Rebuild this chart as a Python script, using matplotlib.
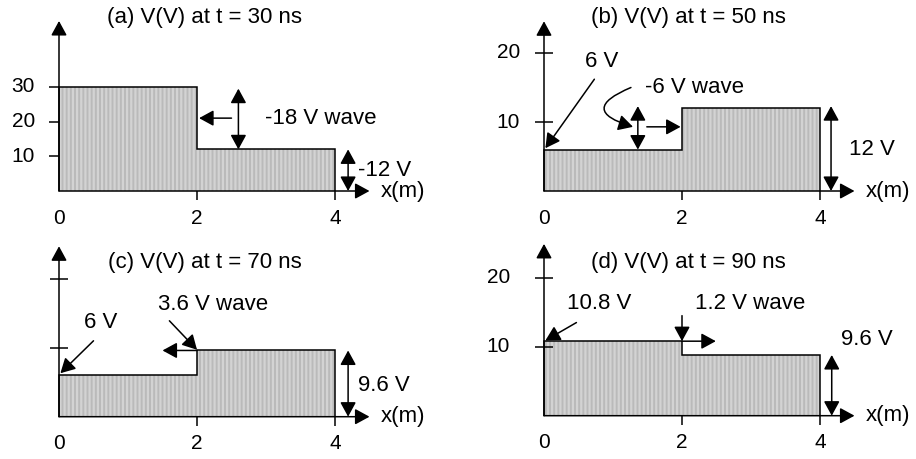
import matplotlib.pyplot as plt

plt.rcParams['font.family'] = ['Liberation Sans', 'DejaVu Sans']
plt.rcParams['hatch.linewidth'] = 1.6

# edges of the two line sections (m)
x_edges = [0, 2, 4]
x_ticks = [0, 2, 4]

# voltage on each section for every snapshot (V)
v_30ns = [30, 12]
v_50ns = [6, 12]
v_70ns = [6, 9.6]
v_90ns = [10.8, 8.8]

titles = ['(a) V(V) at t = 30 ns', '(b) V(V) at t = 50 ns',
          '(c) V(V) at t = 70 ns', '(d) V(V) at t = 90 ns']

yticks_a = [10, 20, 30]
yticks_b = [10, 20]
yticks_c = [10, 20]
yticks_d = [10, 20]

W, H = 916, 459
XS = 69.0   # pixels per metre
FS = 16

fig = plt.figure(figsize=(W / 100, H / 100), dpi=100)

AX = dict(arrowstyle='-|>,head_length=0.55,head_width=0.3', mutation_scale=16,
          color='k', lw=1.1, shrinkA=0, shrinkB=0)
DBL = dict(AX, arrowstyle='<|-|>,head_length=0.55,head_width=0.3')


def panel(qx, qy, ox, oy, ys):
    # axes covering one quarter, origin at pixel (ox, oy)
    ax = fig.add_axes([qx / W, 1 - (qy + H / 2) / H, 0.5, 0.5])
    ax.set_xlim((qx - ox) / XS, (qx + W / 2 - ox) / XS)
    ax.set_ylim((oy - qy - H / 2) / ys, (oy - qy) / ys)
    ax.axis('off')
    return ax


def arrow(ax, start, end, props=AX, **kw):
    p = dict(props, **kw)
    ax.annotate('', xy=end, xytext=start, arrowprops=p, annotation_clip=False)


def draw(ax, levels, title, title_xy, yticks, ylabels, ytop, crossing, ylab_off):
    ax.stairs(levels, x_edges, baseline=0, fill=True, facecolor='#bababa',
              edgecolor='#d3d3d3', lw=0, hatch='||||')
    ax.stairs(levels, x_edges, baseline=0, color='k', lw=1.1)
    arrow(ax, (0, 0), (0, ytop))
    arrow(ax, (0, 0), (4.5, 0))
    ax.text(4.67, 0, 'x(m)', ha='left', va='center', fontsize=FS)
    ax.text(*title_xy, title, ha='center', va='center', fontsize=FS)
    ax.plot(x_ticks[1:], [0] * len(x_ticks[1:]), ls='none', marker=3, ms=6.5,
            mew=1.1, color='k', clip_on=False)
    for xt in x_ticks:
        ax.annotate(str(xt), xy=(xt, 0), xytext=(0, -19.5), textcoords='offset points',
                    ha='center', va='center', fontsize=15)
    if crossing:
        ax.plot([0] * len(yticks), yticks, ls='none', marker='_', ms=13, mew=1.1,
                color='k', clip_on=False)
    else:
        ax.plot([0] * len(yticks), yticks, ls='none', marker=0, ms=7.2, mew=1.1,
                color='k', clip_on=False)
    for yt, lab in zip(yticks, ylabels):
        ax.annotate(lab, xy=(0, yt), xytext=(-ylab_off, 0), textcoords='offset points',
                    ha='right', va='center', fontsize=15)


# (a) t = 30 ns
ax = panel(0, 0, 59, 191, 3.47)
draw(ax, v_30ns, titles[0], (2.11, 50), yticks_a, [str(v) for v in yticks_a], 49, False, 17.3)
arrow(ax, (2.5, 21), (2.03, 21))
arrow(ax, (2.6, 12), (2.6, 29.5), DBL)
ax.text(2.99, 21, '-18 V wave', ha='left', va='center', fontsize=FS)
arrow(ax, (4.19, 0), (4.19, 12), DBL)
ax.text(4.33, 6, '-12 V', ha='left', va='center', fontsize=FS)

# (b) t = 50 ns
ax = panel(458, 0, 544, 191, 6.9)
draw(ax, v_50ns, titles[1], (2.09, 25.2), yticks_b, [str(v) for v in yticks_b], 24.6, True, 17.3)
ax.text(0.83, 18.7, '6 V', ha='center', va='center', fontsize=FS)
arrow(ax, (0.73, 16.2), (0.02, 6.2))
ax.text(1.46, 15, '-6 V wave', ha='left', va='center', fontsize=FS)
arrow(ax, (1.26, 15), (1.29, 9.3), connectionstyle='arc3,rad=1.4')
arrow(ax, (1.36, 6), (1.36, 12.3), DBL)
arrow(ax, (1.49, 9.3), (1.98, 9.3))
arrow(ax, (4.16, 0), (4.16, 12.3), DBL)
ax.text(4.42, 6, '12 V', ha='left', va='center', fontsize=FS)

# (c) t = 70 ns
ax = panel(0, 229.5, 59, 416.7, 6.9)
draw(ax, v_70ns, titles[2], (2.12, 22.4), yticks_c, ['', ''], 24.7, True, 17.3)
ax.text(0.6, 13.7, '6 V', ha='center', va='center', fontsize=FS)
arrow(ax, (0.5, 11), (0.02, 6.3))
ax.text(2.24, 16.3, '3.6 V wave', ha='center', va='center', fontsize=FS)
arrow(ax, (1.6, 13.9), (2.0, 9.7))
arrow(ax, (2.0, 9.6), (1.5, 9.6))
arrow(ax, (4.19, 0), (4.19, 9.6), DBL)
ax.text(4.34, 4.5, '9.6 V', ha='left', va='center', fontsize=FS)

# (d) t = 90 ns
ax = panel(458, 229.5, 544, 415.7, 6.9)
draw(ax, v_90ns, titles[3], (2.09, 22.2), yticks_d, [str(v) for v in yticks_d], 24.9, True, 24.5)
ax.text(0.8, 16.2, '10.8 V', ha='center', va='center', fontsize=FS)
arrow(ax, (0.47, 13.5), (0.02, 10.9))
ax.text(2.99, 16.2, '1.2 V wave', ha='center', va='center', fontsize=FS)
arrow(ax, (2.0, 14.5), (2.0, 10.8))
arrow(ax, (2.0, 10.8), (2.49, 10.8))
arrow(ax, (4.17, 0), (4.17, 8.8), DBL)
ax.text(4.3, 11.1, '9.6 V', ha='left', va='center', fontsize=FS)

fig.savefig('out.png', dpi=100)
